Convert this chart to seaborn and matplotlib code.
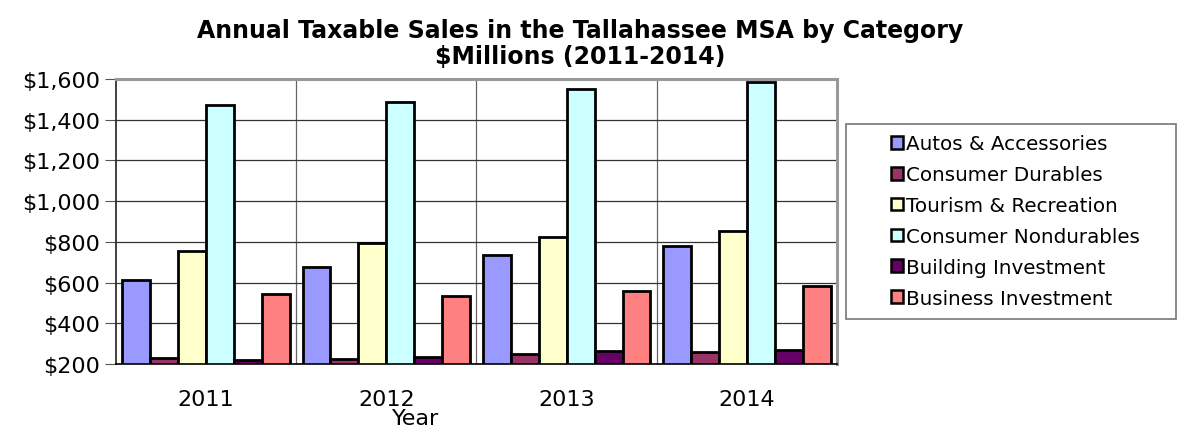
import pandas as pd
import matplotlib.pyplot as plt
import matplotlib.ticker as mticker
from matplotlib.patches import Rectangle, Patch
import seaborn as sns

# --- data ($ millions) ---
years = ["2011", "2012", "2013", "2014"]
categories = ["Autos & Accessories", "Consumer Durables", "Tourism & Recreation",
              "Consumer Nondurables", "Building Investment", "Business Investment"]
autos = [614, 675, 736, 780]
durables = [230, 225, 247, 260]
tourism = [755, 793, 824, 854]
nondurables = [1474, 1489, 1549, 1584]
building = [221, 234, 264, 269]
business = [544, 534, 559, 583]
colors = ["#9999FF", "#993366", "#FFFFCC", "#CCFFFF", "#660066", "#FF8080"]

series = [autos, durables, tourism, nondurables, building, business]
rows = []
for cat, vals in zip(categories, series):
    for yr, v in zip(years, vals):
        rows.append({"Year": yr, "Category": cat, "Sales": v})
df = pd.DataFrame(rows)

sns.set_style("white")
plt.rcParams['font.family'] = ['DejaVu Sans']
plt.rcParams['text.color'] = 'black'
plt.rcParams['xtick.color'] = 'black'
plt.rcParams['ytick.color'] = 'black'
plt.rcParams['axes.labelcolor'] = 'black'

fig = plt.figure(figsize=(11.81, 4.27), dpi=100)
ax = fig.add_axes([116 / 1181, 1 - 365 / 427, 721 / 1181, 285 / 427])

sns.barplot(data=df, x="Year", y="Sales", hue="Category", hue_order=categories,
            order=years, palette=colors, width=0.93, gap=0, edgecolor="black",
            linewidth=2.0, saturation=1, errorbar=None, legend=False, ax=ax)

ax.set_ylim(200, 1600)
ax.set_xlim(-0.5, 3.5)
ax.yaxis.set_major_locator(mticker.MultipleLocator(200))
ax.yaxis.set_major_formatter(mticker.FuncFormatter(lambda v, p: f"${v:,.0f}"))

# grid: horizontal at ticks, vertical at category boundaries
ax.set_axisbelow(True)
ax.yaxis.grid(True, color="#333333", linewidth=0.9)
for xb in [0.5, 1.5, 2.5]:
    ax.axvline(xb, color="#666666", linewidth=0.9, zorder=0)
ax.set_xticks([-0.5, 0.5, 1.5, 2.5, 3.5], minor=True)
ax.tick_params(axis="x", which="minor", length=6, color="#555555", direction="out")
ax.tick_params(axis="x", which="major", length=0, labelsize=16, pad=18)
ax.tick_params(axis="y", length=8, color="#555555", direction="out", labelsize=16, left=True)

for side in ["top", "right"]:
    ax.spines[side].set_color("#999999")
    ax.spines[side].set_linewidth(2.2)
ax.spines["left"].set_color("#222222")
ax.spines["bottom"].set_color("#000000")
ax.spines["left"].set_linewidth(1.2)
ax.spines["bottom"].set_linewidth(1.2)

ax.set_ylabel("")
ax.set_xlabel("Year", fontsize=16)
ax.xaxis.set_label_coords(0.415, -0.155)

fig.text(0.491, 0.955, "Annual Taxable Sales in the Tallahassee MSA by Category\n$Millions (2011-2014)",
         ha="center", va="top", fontsize=17, fontweight="bold", linespacing=1.1)

# legend box like Excel
fig.patches.append(Rectangle((846 / 1181, 1 - 320 / 427), 330 / 1181, 195 / 427,
                             transform=fig.transFigure, facecolor="white",
                             edgecolor="#777777", linewidth=1.2))
handles = [Patch(facecolor=c, edgecolor="black", linewidth=1.8) for c in colors]
fig.legend(handles, categories, loc="center left", bbox_to_anchor=(891 / 1181, 1 - 222 / 427),
           frameon=False, fontsize=14.3, handlelength=0.62, handleheight=0.62,
           handletextpad=0.15, labelspacing=0.6, borderpad=0, borderaxespad=0)

plt.savefig("out.png", dpi=100)
